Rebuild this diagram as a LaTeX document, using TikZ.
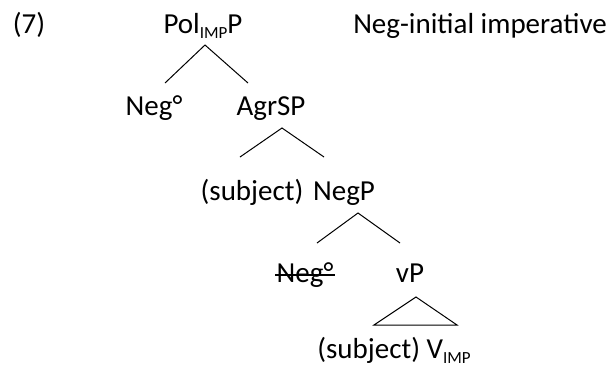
\documentclass[tikz,border=0pt]{standalone}
\usepackage{fontspec}
\setmainfont{Carlito}
\usetikzlibrary{positioning,calc}

\newcommand{\sub}[1]{\raisebox{-0.18em}{\fontsize{17}{17}\selectfont #1}}

\begin{document}
\begin{tikzpicture}[x=1pt,y=-1pt,
    lbl/.style={anchor=base,inner sep=0pt,font=\fontsize{29}{34}\selectfont},
    branch/.style={line width=1pt}]
    \useasboundingbox (0,0) rectangle (612,373);

    \node[lbl] (ex) at (29,33) {(7)};
    \node[lbl] (polp) at (203,33) {Pol\sub{IMP}P};
    \node[lbl] (title) at (480,33) {Neg-initial imperative};

    \node[lbl] (neg1) at (154,115) {Neg°};
    \node[lbl] (agrsp) at (271,115) {AgrSP};

    \node[lbl] (subj1) at (252,200) {(subject)};
    \node[lbl] (negp) at (344,200) {NegP};

    \node[lbl] (neg2) at (305,282) {Neg°};
    \node[lbl] (vp) at (410,282) {vP};

    \node[lbl] (vimp) at (394,358) {(subject) V\sub{IMP}};

    % strike through the lower Neg
    \draw[line width=1.5pt] ($(neg2.base west)+(-1,-7)$) -- ($(neg2.base east)+(1,-7)$);

    % branch ends
    \coordinate (polp-top) at (205,45);
    \coordinate (polp-l) at (165,83);
    \coordinate (polp-r) at (248,83);
    \coordinate (agrsp-top) at (282,128);
    \coordinate (agrsp-l) at (240,157);
    \coordinate (agrsp-r) at (324,157);
    \coordinate (negp-top) at (358,213);
    \coordinate (negp-l) at (317,243);
    \coordinate (negp-r) at (400,243);
    \coordinate (vp-top) at (416,297);
    \coordinate (vp-l) at (374,325);
    \coordinate (vp-r) at (457,325);

    \draw[branch] (polp-l) -- (polp-top) -- (polp-r);
    \draw[branch] (agrsp-l) -- (agrsp-top) -- (agrsp-r);
    \draw[branch] (negp-l) -- (negp-top) -- (negp-r);
    \draw[branch] (vp-l) -- (vp-top) -- (vp-r) -- cycle;
  \end{tikzpicture}
\end{document}
